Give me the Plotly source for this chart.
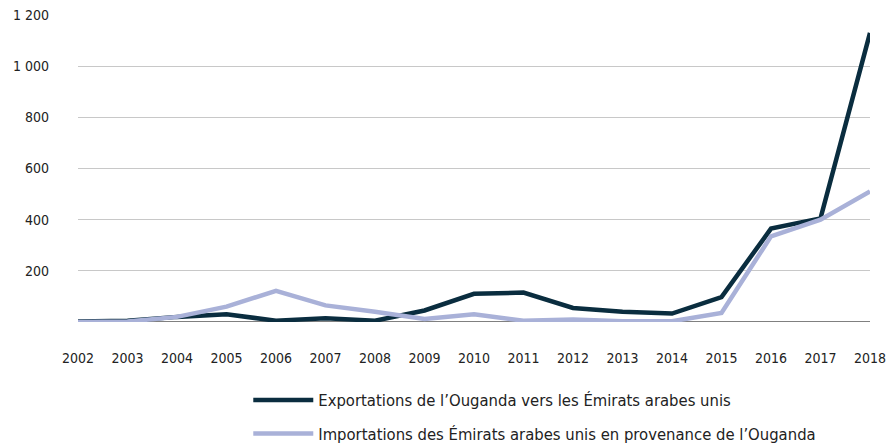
import plotly.graph_objects as go

years = [str(y) for y in range(2002, 2019)]
exports = [2, 5, 20, 30, 5, 15, 5, 45, 110, 115, 55, 40, 33, 97, 365, 405, 1130]
imports = [0, 2, 20, 60, 122, 65, 40, 12, 30, 5, 10, 3, 3, 35, 335, 400, 510]
y_ticks = [200, 400, 600, 800, 1000, 1200]
y_labels = ["200", "400", "600", "800", "1 000", "1 200"]
names = ["Exportations de l’Ouganda vers les Émirats arabes unis",
         "Importations des Émirats arabes unis en provenance de l’Ouganda"]

FONT = "DejaVu Sans Condensed, Liberation Sans Narrow, Roboto, sans-serif"

fig = go.Figure()
fig.add_trace(go.Scatter(x=years, y=exports, mode="lines", name=names[0],
                         line=dict(color="#0a2d3f", width=4.5), legendgroup="a"))
fig.add_trace(go.Scatter(x=years, y=imports, mode="lines", name=names[1],
                         line=dict(color="#a9b1d8", width=4.5), legendgroup="b"))

fig.update_layout(
    width=891, height=444,
    margin=dict(l=78, r=21, t=15, b=122, autoexpand=False),
    paper_bgcolor="white", plot_bgcolor="white",
    font=dict(family=FONT, size=14, color="#222222"),
    showlegend=True,
    legend=dict(x=0.215, y=-0.198, xanchor="left", yanchor="top",
                font=dict(size=16.5, color="#222222"), tracegroupgap=9,
                itemwidth=60),
    xaxis=dict(type="category", range=[0, 16], showgrid=False, ticks="",
               showline=False, zeroline=False, ticklabelstandoff=26),
    yaxis=dict(range=[0, 1200], tickvals=y_ticks, ticktext=y_labels,
               showgrid=True, gridcolor="#c8c8c8", gridwidth=1,
               zeroline=False, showline=False, ticks="", ticklabelstandoff=28),
)
fig.add_shape(type="line", xref="paper", yref="y", x0=0, x1=1, y0=0, y1=0,
              line=dict(color="black", width=1), layer="below")

fig.write_html("out.html", config={"displayModeBar": False},
               post_script="document.body.style.margin='0';document.body.style.overflow='hidden';")
